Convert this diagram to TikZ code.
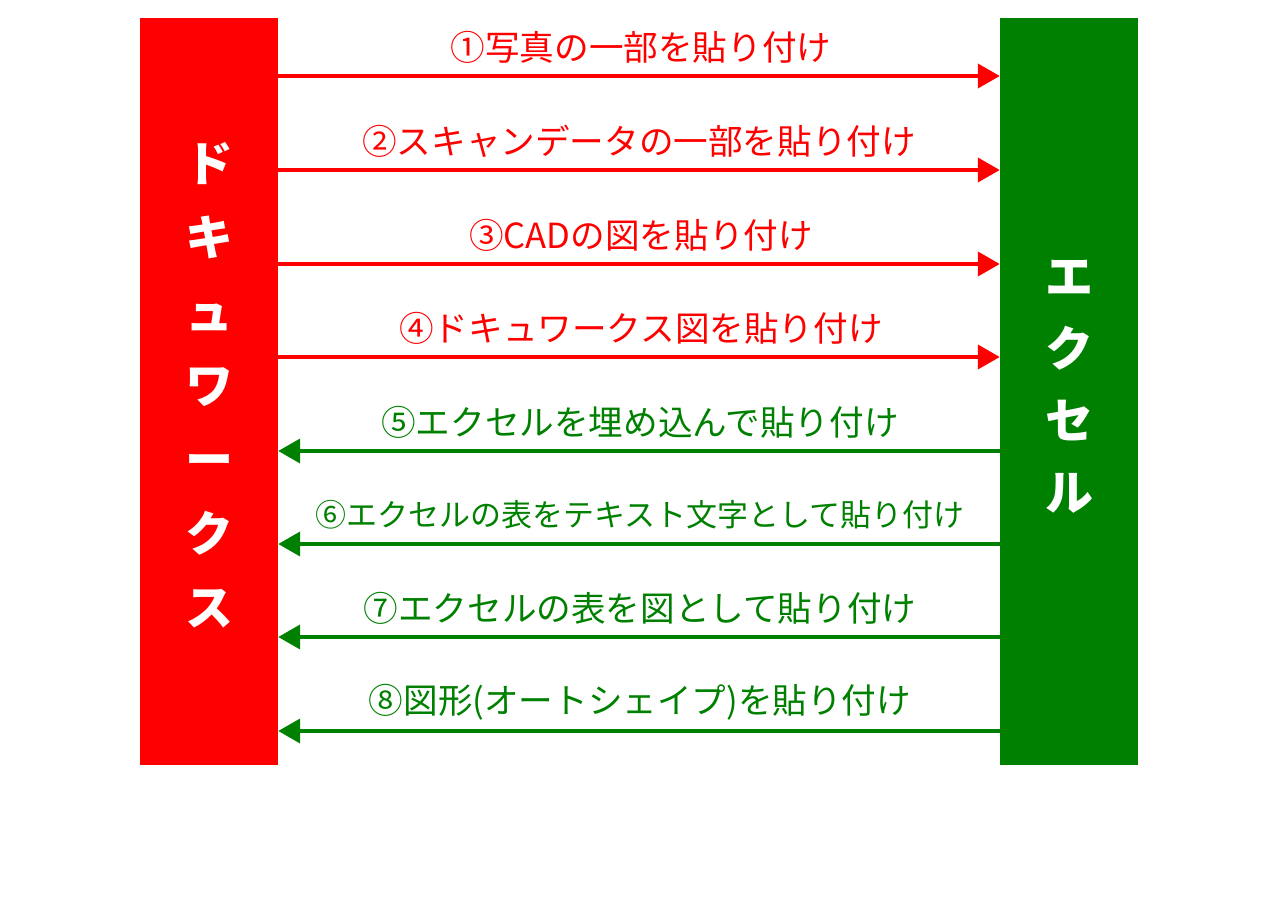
\documentclass[tikz,border=0pt]{standalone}
\usepackage{fontspec}
\setmainfont{Noto Sans CJK JP}
\usetikzlibrary{arrows.meta}
\definecolor{xred}{RGB}{255,0,0}
\definecolor{xgreen}{RGB}{0,128,0}
\tikzset{
  bigbox/.style={rectangle, minimum width=138pt, minimum height=747pt, inner sep=0pt},
  vtext/.style={text=white, align=center, inner sep=0pt, font=\fontsize{48}{#1}\selectfont\bfseries},
  rarrow/.style={draw=xred, line width=4pt, -{Triangle[length=22pt,width=24pt]}, fill=xred},
  garrow/.style={draw=xgreen, line width=4pt, -{Triangle[length=22pt,width=24pt]}, fill=xgreen},
  rlab/.style={text=xred, font=\fontsize{34.6}{40}\selectfont, inner sep=0pt},
  glab/.style={text=xgreen, font=\fontsize{34.6}{40}\selectfont, inner sep=0pt},
}
\begin{document}
\begin{tikzpicture}[x=1pt,y=-1pt]
\useasboundingbox (0,0) rectangle (1280,905);
\node[bigbox, fill=xred] (doc) at (209,391.5) {};
\node[bigbox, fill=xgreen] (xl) at (1069,391.5) {};
\node[vtext=74] (doct) at (209,385) {ド\\キ\\ュ\\ワ\\ー\\ク\\ス};
\node[vtext=72] (xlt) at (1069,387) {エ\\ク\\セ\\ル};

\draw[rarrow] (doc.east |- 0,76) -- (xl.west |- 0,76);
\draw[rarrow] (doc.east |- 0,170) -- (xl.west |- 0,170);
\draw[rarrow] (doc.east |- 0,264) -- (xl.west |- 0,264);
\draw[rarrow] (doc.east |- 0,357) -- (xl.west |- 0,357);
\draw[garrow] (xl.west |- 0,451) -- (doc.east |- 0,451);
\draw[garrow] (xl.west |- 0,544) -- (doc.east |- 0,544);
\draw[garrow] (xl.west |- 0,637) -- (doc.east |- 0,637);
\draw[garrow] (xl.west |- 0,731) -- (doc.east |- 0,731);

\node[rlab] (l1) at (641,47) {①写真の一部を貼り付け};
\node[rlab] (l2) at (639,141) {②スキャンデータの一部を貼り付け};
\node[rlab] (l3) at (641,235) {③CADの図を貼り付け};
\node[rlab] (l4) at (641,328) {④ドキュワークス図を貼り付け};
\node[glab] (l5) at (640,422) {⑤エクセルを埋め込んで貼り付け};
\node[glab, font=\fontsize{31}{40}\selectfont] (l6) at (640,515) {⑥エクセルの表をテキスト文字として貼り付け};
\node[glab] (l7) at (640,608) {⑦エクセルの表を図として貼り付け};
\node[glab] (l8) at (640,702) {⑧図形(オートシェイプ)を貼り付け};
\end{tikzpicture}
\end{document}
